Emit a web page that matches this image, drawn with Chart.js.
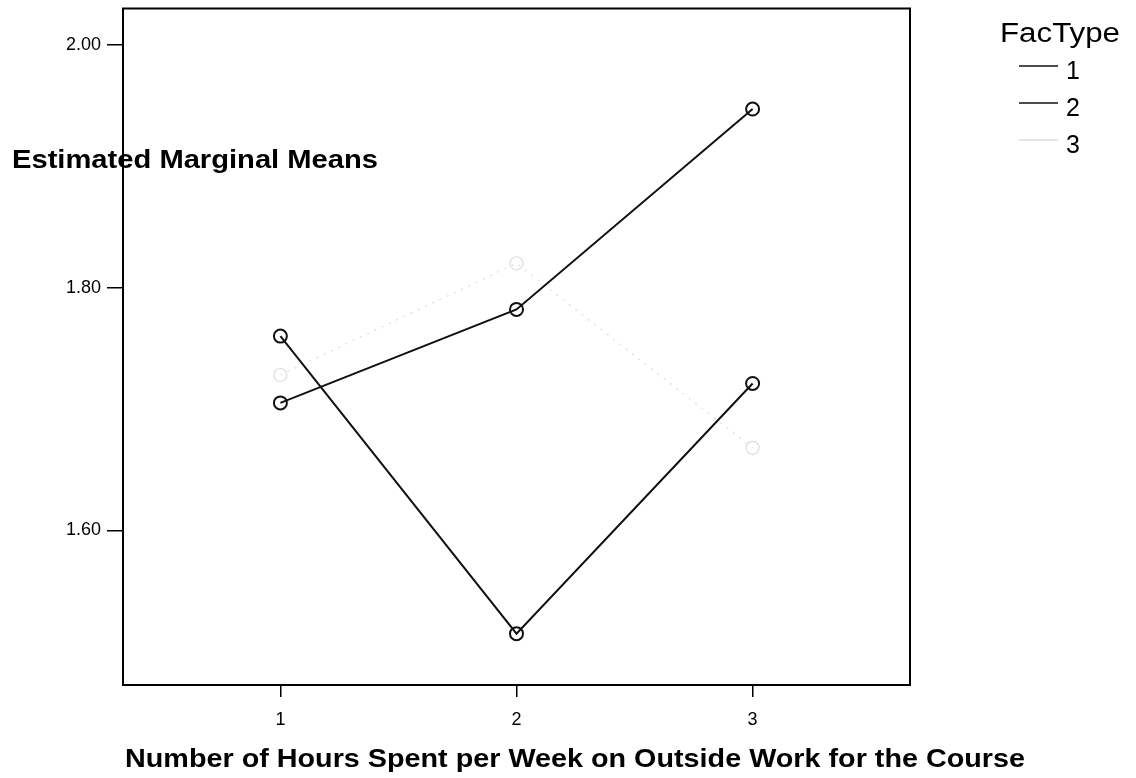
<!DOCTYPE html>
<html>
<head>
<meta charset="utf-8">
<script src="https://cdn.jsdelivr.net/npm/chart.js@4"></script>
<style>
  html, body { margin: 0; padding: 0; background: #fff; }
  #wrap { width: 1136px; height: 778px; }
</style>
</head>
<body>
<div id="wrap"><canvas id="chart" width="1136" height="778"></canvas></div>
<script>
// data
const hours = [1, 2, 3];
const facType1 = [1.705, 1.782, 1.947];
const facType2 = [1.760, 1.515, 1.721];
const facType3 = [1.728, 1.820, 1.668];
const yTicks = [1.60, 1.80, 2.00];
const seriesLabels = ['1', '2', '3'];

const FONT = '"Liberation Sans", Arial, Helvetica, sans-serif';

function pts(vals) {
  return hours.map((h, i) => ({ x: h, y: vals[i] }));
}

function fitText(ctx, text, x, y, width, align) {
  const w = ctx.measureText(text).width;
  const s = width / w;
  ctx.save();
  ctx.translate(x, y);
  ctx.scale(s, 1);
  ctx.textAlign = align || 'left';
  ctx.fillText(text, 0, 0);
  ctx.restore();
}

// frame, y title, x title and legend like the SPSS plot
const decorations = {
  id: 'decorations',
  afterDraw(chart) {
    const ctx = chart.ctx;
    const a = chart.chartArea;
    ctx.save();
    ctx.strokeStyle = '#000';
    ctx.lineWidth = 2;
    ctx.strokeRect(a.left, a.top, a.right - a.left, a.bottom - a.top);

    ctx.fillStyle = '#000';
    ctx.textBaseline = 'alphabetic';
    ctx.font = 'bold 26px ' + FONT;
    fitText(ctx, 'Estimated Marginal Means', 12, 168, 366);
    fitText(ctx, 'Number of Hours Spent per Week on Outside Work for the Course', 125, 767, 900);

    // legend
    ctx.font = '27px ' + FONT;
    fitText(ctx, 'FacType', 1000, 42, 120);
    chart.data.datasets.forEach((ds, i) => {
      const y = 70 + i * 37;
      ctx.strokeStyle = ds.borderColor;
      ctx.lineWidth = 1.5;
      ctx.beginPath();
      ctx.moveTo(1019, y - 4);
      ctx.lineTo(1058, y - 4);
      ctx.stroke();
      ctx.fillStyle = '#000';
      ctx.font = '25px ' + FONT;
      ctx.textAlign = 'left';
      ctx.fillText(seriesLabels[i], 1066, y + 9);
    });
    ctx.restore();
  }
};

const lineStyle = {
  showLine: true,
  borderWidth: 2,
  pointRadius: 6.5,
  pointHoverRadius: 6.5,
  pointBorderWidth: 2,
  pointBackgroundColor: 'rgba(255,255,255,0)',
  tension: 0
};

new Chart(document.getElementById('chart'), {
  type: 'scatter',
  data: {
    datasets: [
      Object.assign({ label: seriesLabels[0], data: pts(facType1), borderColor: '#111', pointBorderColor: '#111' }, lineStyle),
      Object.assign({ label: seriesLabels[1], data: pts(facType2), borderColor: '#111', pointBorderColor: '#111' }, lineStyle),
      Object.assign({ label: seriesLabels[2], data: pts(facType3), borderColor: '#dcdcdc', pointBorderColor: '#dcdcdc', borderDash: [2, 6] }, lineStyle, { borderWidth: 1.2, pointBorderWidth: 1.2 })
    ]
  },
  options: {
    responsive: false,
    animation: false,
    layout: { padding: { left: 0, top: 6, right: 226, bottom: 0 } },
    plugins: {
      legend: { display: false },
      tooltip: { enabled: false }
    },
    scales: {
      x: {
        type: 'linear',
        min: 1 / 3,
        max: 11 / 3,
        afterBuildTicks(scale) { scale.ticks = hours.map(v => ({ value: v })); },
        afterFit(scale) { scale.height = 93; scale.paddingLeft = 0; scale.paddingRight = 0; },
        grid: { drawOnChartArea: false, drawTicks: true, tickLength: 12, color: '#000', lineWidth: 1.5 },
        border: { display: false },
        ticks: { color: '#000', font: { family: FONT, size: 18 }, padding: 12, callback: v => String(v) }
      },
      y: {
        min: 1.4727,
        max: 2.0298,
        afterBuildTicks(scale) { scale.ticks = yTicks.map(v => ({ value: v })); },
        afterFit(scale) { scale.width = 123; scale.paddingTop = 0; scale.paddingBottom = 0; },
        grid: { drawOnChartArea: false, drawTicks: true, tickLength: 16, color: '#000', lineWidth: 1.5 },
        border: { display: false },
        ticks: { color: '#000', font: { family: FONT, size: 18 }, padding: 6, callback: v => v.toFixed(2) }
      }
    }
  },
  plugins: [decorations]
});
</script>
</body>
</html>
